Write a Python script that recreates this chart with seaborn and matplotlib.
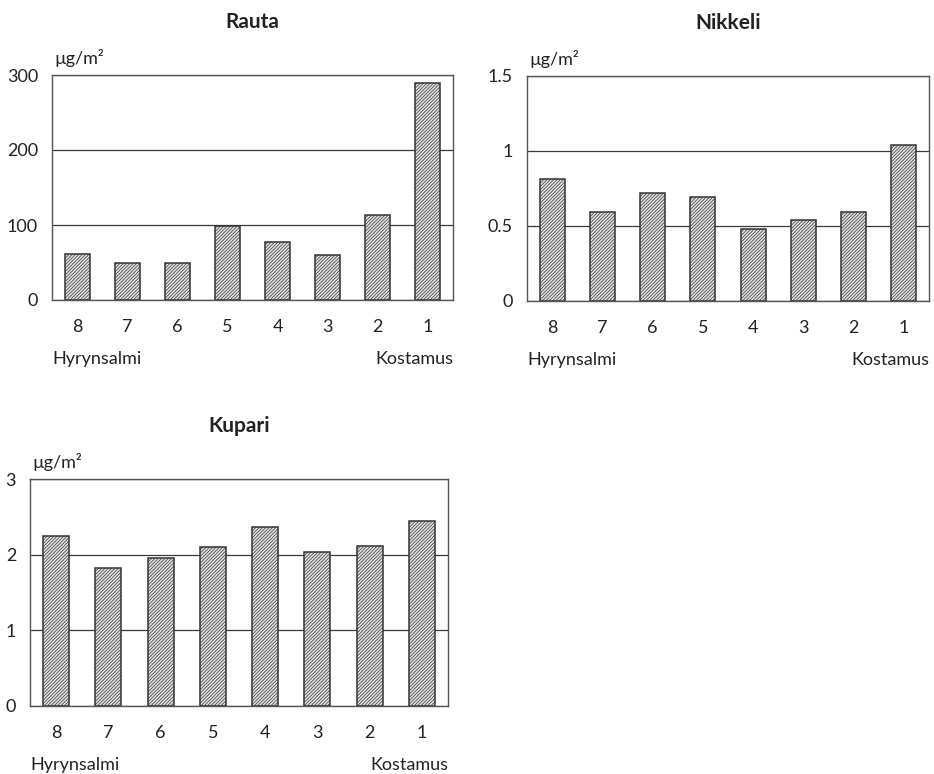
import matplotlib
matplotlib.use("Agg")
import matplotlib.pyplot as plt
import seaborn as sns

sns.set_theme(style="white")
plt.rcParams["font.family"] = ["Lato", "DejaVu Sans"]
plt.rcParams["hatch.linewidth"] = 0.5

# Sampling sites from Hyrynsalmi (8) to Kostamus (1)
sites = ["8", "7", "6", "5", "4", "3", "2", "1"]
unit = "µg/m²"
west_label = "Hyrynsalmi"
east_label = "Kostamus"

rauta = [62, 49, 50, 99, 77, 60, 113, 289]
nikkeli = [0.81, 0.59, 0.72, 0.69, 0.48, 0.54, 0.59, 1.04]
kupari = [2.25, 1.82, 1.95, 2.10, 2.36, 2.04, 2.12, 2.45]

rauta_ticks = [0, 100, 200, 300]
rauta_ticklabels = ["0", "100", "200", "300"]
nikkeli_ticks = [0, 0.5, 1.0, 1.5]
nikkeli_ticklabels = ["0", "0.5", "1", "1.5"]
kupari_ticks = [0, 1, 2, 3]
kupari_ticklabels = ["0", "1", "2", "3"]

W, H = 934, 774
fig = plt.figure(figsize=(W / 100, H / 100), dpi=100)


def px_axes(x0, y0, x1, y1):
    return fig.add_axes([x0 / W, 1 - y1 / H, (x1 - x0) / W, (y1 - y0) / H])


def panel(ax, title, values, ticks, ticklabels, height_px):
    sns.barplot(x=sites, y=values, ax=ax, color="#e2e2e2", edgecolor="#333333",
                linewidth=1.1, width=0.5, saturation=1)
    for p in ax.patches:
        p.set_hatch("/" * 10)
    ax.set_xlim(-0.5, len(sites) - 0.5)
    ax.set_ylim(ticks[0], ticks[-1])
    ax.set_yticks(ticks)
    ax.set_yticklabels(ticklabels)
    ax.set_xlabel("")
    ax.set_ylabel("")
    ax.set_axisbelow(True)
    ax.yaxis.grid(True, color="#3a3a3a", linewidth=0.9)
    ax.xaxis.grid(False)
    for s in ax.spines.values():
        s.set_visible(True)
        s.set_color("#555555")
        s.set_linewidth(1.0)
    ax.tick_params(axis="both", length=0, labelsize=13, colors="#222222")
    ax.tick_params(axis="y", pad=10)
    ax.tick_params(axis="x", pad=14)
    ax.text(0.5, 1 + 53 / height_px, title, transform=ax.transAxes, ha="center",
            va="center", fontsize=15, fontweight="bold", color="#222222")
    ax.text(0.005, 1 + 17 / height_px, unit, transform=ax.transAxes, ha="left",
            va="center", fontsize=13, color="#222222")
    ax.text(0.0, -59 / height_px, west_label, transform=ax.transAxes, ha="left",
            va="center", fontsize=13, color="#222222")
    ax.text(1.0, -59 / height_px, east_label, transform=ax.transAxes, ha="right",
            va="center", fontsize=13, color="#222222")


ax1 = px_axes(52, 75, 453, 300)
panel(ax1, "Rauta", rauta, rauta_ticks, rauta_ticklabels, 225)

ax2 = px_axes(527, 76, 929, 301)
panel(ax2, "Nikkeli", nikkeli, nikkeli_ticks, nikkeli_ticklabels, 225)

ax3 = px_axes(30, 479, 448, 706)
panel(ax3, "Kupari", kupari, kupari_ticks, kupari_ticklabels, 227)

fig.savefig("out.png", dpi=100, facecolor="white")
